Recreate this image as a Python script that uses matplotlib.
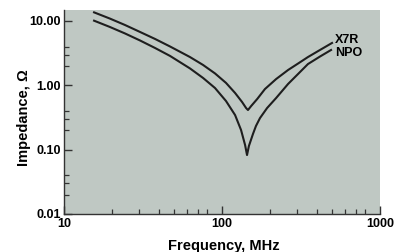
import numpy as np
import matplotlib.pyplot as plt
from matplotlib.ticker import LogLocator, FixedFormatter, FixedLocator, NullFormatter

# values (frequency in MHz, impedance in ohm)
x7r_freq = [15.5, 19.5, 24.3, 30.3, 37.7, 46.9, 62.7, 75.9, 90.3, 106, 121, 134, 142, 146,
            153, 167, 187, 220, 262, 303, 350, 417, 497]
x7r_imp = [13.6, 10.9, 8.66, 6.74, 5.25, 4.01, 2.75, 2.07, 1.53, 1.09, 0.76, 0.55, 0.444, 0.413,
           0.477, 0.612, 0.875, 1.25, 1.73, 2.18, 2.75, 3.54, 4.55]

npo_freq = [15.5, 19.5, 24.3, 30.3, 37.7, 46.9, 62.7, 75.9, 90.3, 106, 121, 132, 140, 144,
            148, 157, 164, 174, 193, 220, 262, 303, 350, 417, 490]
npo_imp = [10.1, 8.07, 6.40, 4.97, 3.80, 2.86, 1.83, 1.30, 0.908, 0.570, 0.345, 0.202, 0.118, 0.0824,
           0.114, 0.175, 0.233, 0.31, 0.444, 0.634, 1.05, 1.50, 2.14, 2.80, 3.54]

y_ticks = [0.01, 0.1, 1, 10]
y_labels = ["0.01", "0.10", "1.00", "10.00"]
x_ticks = [10, 100, 1000]
x_labels = ["10", "100", "1000"]

plt.rcParams['font.family'] = ['Liberation Sans', 'DejaVu Sans']

fig = plt.figure(figsize=(3.96, 2.52), dpi=100)
ax = fig.add_axes([64 / 396, 1 - 214 / 252, 316 / 396, 204 / 252])
ax.set_facecolor('#bfc8c3')

ax.plot(x7r_freq, x7r_imp, color='#1e1e1e', lw=1.5, solid_joinstyle='round')
ax.plot(npo_freq, npo_imp, color='#1e1e1e', lw=1.5, solid_joinstyle='round')

ax.set_xscale('log')
ax.set_yscale('log')
ax.set_xlim(10, 1000)
ax.set_ylim(0.01, 14.8)

ax.xaxis.set_major_locator(FixedLocator(x_ticks))
ax.xaxis.set_major_formatter(FixedFormatter(x_labels))
ax.xaxis.set_minor_locator(LogLocator(base=10, subs=[2, 3, 4, 5, 6, 7, 8]))
ax.xaxis.set_minor_formatter(NullFormatter())
ax.yaxis.set_major_locator(FixedLocator(y_ticks))
ax.yaxis.set_major_formatter(FixedFormatter(y_labels))
ax.yaxis.set_minor_locator(LogLocator(base=10, subs=[2, 3, 4]))
ax.yaxis.set_minor_formatter(NullFormatter())

ax.tick_params(which='major', direction='in', length=6, width=1, color='#333333',
               labelsize=9, pad=3)
ax.tick_params(which='minor', direction='in', length=3.5, width=0.9, color='#333333')
ax.tick_params(axis='y', pad=2)
for lab in ax.get_xticklabels() + ax.get_yticklabels():
    lab.set_fontweight('bold')

for s in ['top', 'right']:
    ax.spines[s].set_visible(False)
for s in ['left', 'bottom']:
    ax.spines[s].set_color('#333333')
    ax.spines[s].set_linewidth(1)

ax.set_xlabel('Frequency, MHz', fontsize=10.5, fontweight='bold', va='center')
ax.xaxis.set_label_coords(0.505, -0.157)
ax.set_ylabel('Impedance, Ω', fontsize=10.5, fontweight='bold', va='center')
ax.yaxis.set_label_coords(-0.127, 0.47)

ax.text(519, 5.07, 'X7R', fontsize=9, fontweight='bold', va='center', ha='left')
ax.text(519, 3.18, 'NPO', fontsize=9, fontweight='bold', va='center', ha='left')

plt.savefig('out.png', dpi=100)
